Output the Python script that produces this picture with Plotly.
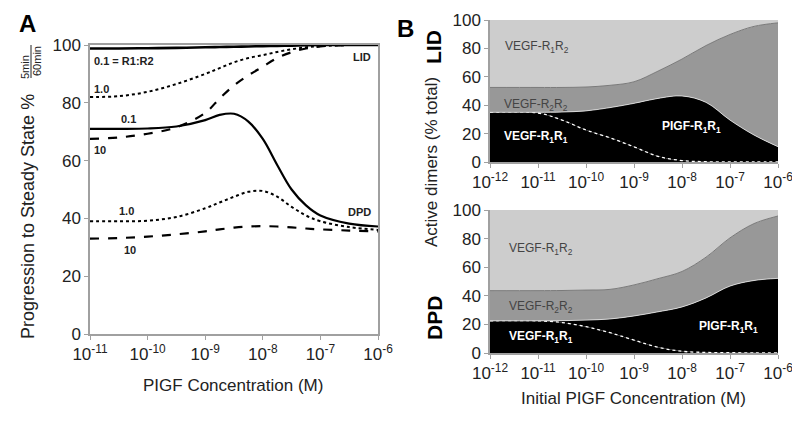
import plotly.graph_objects as go

# ---- panel A data: progression to steady state (%), x = PlGF concentration (M)
conc_a = [1e-11, 10**-10.5, 1e-10, 10**-9.5, 1e-9, 10**-8.75, 10**-8.5, 10**-8.25,
          1e-8, 10**-7.75, 10**-7.5, 10**-7.25, 1e-7, 10**-6.5, 1e-6]

lid_01 = [98.8, 98.8, 98.9, 99.0, 99.2, 99.3, 99.4, 99.5, 99.6, 99.7, 99.8, 99.9, 100, 100, 100]
lid_10 = [82, 82.3, 83.8, 86.5, 90, 92, 94, 95.5, 96.5, 97.6, 98.5, 99.2, 99.6, 100, 100]
lid_100 = [67.5, 68, 69.3, 71.5, 76.5, 81.5, 86, 89.5, 92.5, 95.5, 97.5, 98.8, 99.5, 100, 100]
dpd_01 = [71, 71, 71.1, 71.8, 74, 75.8, 76.2, 73.5, 67.5, 58.5, 50, 44.5, 41, 38.2, 37.2]
dpd_10 = [39, 39, 39.2, 40.5, 43.5, 45.5, 47.5, 49.2, 49.5, 47.5, 44, 41, 39, 37, 36]
dpd_100 = [33, 33.2, 33.7, 34.5, 35.5, 36.2, 36.8, 37.2, 37.3, 37.2, 36.9, 36.5, 36.2, 35.8, 35.5]

# ---- panel B data: active dimers (% of total)
conc_b = [1e-12, 1e-11, 10**-10.5, 1e-10, 10**-9.5, 1e-9, 10**-8.5, 1e-8,
          10**-7.5, 1e-7, 10**-6.5, 1e-6]

lid_vegf_r1r1 = [35, 34.5, 29.5, 22.5, 17, 10.7, 4, 1, 0.2, 0, 0, 0]
lid_plgf_r1r1 = [0, 0.5, 5.7, 13.5, 21.3, 30.6, 40.8, 45.5, 41.8, 29.5, 19, 10.8]
lid_vegf_r2r2 = [17.5, 17.5, 17.3, 16.8, 15.7, 15.2, 19.2, 26, 40, 60.3, 76.5, 87.2]
lid_vegf_r1r2 = [47.5, 47.5, 47.5, 47.2, 46, 43.5, 36, 27.5, 18, 10.2, 4.5, 2]

dpd_vegf_r1r1 = [22.5, 22.5, 21.3, 18.4, 14.2, 9, 4, 1.2, 0.4, 0.2, 0.1, 0]
dpd_plgf_r1r1 = [0, 0, 1.3, 4.6, 9.6, 16.9, 24.8, 31, 38.1, 46.6, 50.6, 52.2]
dpd_vegf_r2r2 = [21.1, 21.1, 21.1, 21, 20.7, 21.7, 23.2, 24.8, 28.5, 33.7, 39.8, 43.6]
dpd_vegf_r1r2 = [56.4, 56.4, 56.3, 56, 55.5, 52.4, 48, 43, 33, 19.5, 9.5, 4.2]

ticks_a = [1e-11, 1e-10, 1e-9, 1e-8, 1e-7, 1e-6]
ticktext_a = ['10<sup>-11</sup>', '10<sup>-10</sup>', '10<sup>-9</sup>',
              '10<sup>-8</sup>', '10<sup>-7</sup>', '10<sup>-6</sup>']
ticks_b = [1e-12] + ticks_a
ticktext_b = ['10<sup>-12</sup>'] + ticktext_a

FONT = 'Arial, Liberation Sans, sans-serif'
AXIS_GRAY = '#a0a0a0'
LIGHT = '#cdcdcd'
MEDIUM = '#989898'

fig = go.Figure()

# panel A lines
styles = [
    (lid_01, 'solid', 2.6), (lid_10, 'dot', 2), (lid_100, 'dash', 2.2),
    (dpd_01, 'solid', 2.2), (dpd_10, 'dot', 2), (dpd_100, 'dash', 2.2),
]
for ys, dash, w in styles:
    fig.add_trace(go.Scatter(x=conc_a, y=ys, mode='lines', xaxis='x', yaxis='y',
                             line=dict(color='black', dash=dash, width=w, shape='spline'),
                             showlegend=False, hoverinfo='skip'))

# panel B stacked areas
def add_stack(xa, ya, group, r1r1, plgf, r2r2, r1r2):
    fig.add_trace(go.Scatter(x=conc_b, y=r1r1, stackgroup=group, xaxis=xa, yaxis=ya,
                             fillcolor='black', mode='lines',
                             line=dict(color='white', dash='dot', width=1.3, shape='spline'),
                             showlegend=False, hoverinfo='skip'))
    fig.add_trace(go.Scatter(x=conc_b, y=plgf, stackgroup=group, xaxis=xa, yaxis=ya,
                             fillcolor='black', mode='lines',
                             line=dict(color='#e8e8e8', width=0.8, shape='spline'),
                             showlegend=False, hoverinfo='skip'))
    fig.add_trace(go.Scatter(x=conc_b, y=r2r2, stackgroup=group, xaxis=xa, yaxis=ya,
                             fillcolor=MEDIUM, mode='lines',
                             line=dict(color='#7a7a7a', width=1, shape='spline'),
                             showlegend=False, hoverinfo='skip'))
    fig.add_trace(go.Scatter(x=conc_b, y=r1r2, stackgroup=group, xaxis=xa, yaxis=ya,
                             fillcolor=LIGHT, mode='lines',
                             line=dict(color=LIGHT, width=0, shape='spline'),
                             showlegend=False, hoverinfo='skip'))

add_stack('x2', 'y2', 'lid', lid_vegf_r1r1, lid_plgf_r1r1, lid_vegf_r2r2, lid_vegf_r1r2)
add_stack('x3', 'y3', 'dpd', dpd_vegf_r1r1, dpd_plgf_r1r1, dpd_vegf_r2r2, dpd_vegf_r1r2)

# the page body has an 8px margin, so the figure is a bit smaller than the window
OFF = 8
W, H = 800 - OFF, 425 - OFF


def px(x):
    return (x - OFF) / W


def py(y):
    return 1 - (y - OFF) / H


common_x = dict(type='log', showgrid=False, zeroline=False, showline=True, automargin=False,
                linecolor=AXIS_GRAY, linewidth=1.5, ticks='outside', ticklen=4,
                tickcolor=AXIS_GRAY, tickfont=dict(size=17, color='#222'))
common_y = dict(range=[0, 100], dtick=20, showgrid=False, zeroline=False, showline=True,
                automargin=False,
                linecolor=AXIS_GRAY, linewidth=1.5, ticks='outside', ticklen=4,
                tickcolor=AXIS_GRAY, tickfont=dict(size=17, color='#222'))

fig.update_layout(
    width=W, height=H, margin=dict(l=0, r=0, t=0, b=0, pad=0), autosize=False,
    paper_bgcolor='white', plot_bgcolor='white',
    font=dict(family=FONT, color='#222'),
    xaxis=dict(common_x, domain=[px(90), px(378)], range=[-11, -6], anchor='y',
               tickvals=ticks_a, ticktext=ticktext_a, mirror=True),
    yaxis=dict(common_y, domain=[py(334), py(45)], anchor='x', mirror=True),
    xaxis2=dict(common_x, domain=[px(490), px(778)], range=[-12, -6], anchor='y2',
                tickvals=ticks_b, ticktext=ticktext_b),
    yaxis2=dict(common_y, domain=[py(162), py(20)], anchor='x2'),
    xaxis3=dict(common_x, domain=[px(490), px(778)], range=[-12, -6], anchor='y3',
                tickvals=ticks_b, ticktext=ticktext_b),
    yaxis3=dict(common_y, domain=[py(353), py(210)], anchor='x3'),
)

ann = []


def paper_text(text, x, y, size, bold=False, angle=0, color='#222', xanchor='center'):
    ann.append(dict(text=f'<b>{text}</b>' if bold else text, x=px(x), y=py(y),
                    xref='paper', yref='paper', showarrow=False, textangle=angle,
                    xanchor=xanchor, yanchor='middle',
                    font=dict(size=size, color=color, family=FONT)))


def data_text(text, x, y, xr, yr, size, color='#222', xanchor='left', bold=True):
    ann.append(dict(text=f'<b>{text}</b>' if bold else text, x=x, y=y, xref=xr, yref=yr,
                    showarrow=False, xanchor=xanchor, yanchor='middle',
                    font=dict(size=size, color=color, family=FONT)))


paper_text('A', 27, 24, 24, bold=True, color='black')
paper_text('B', 405, 28, 24, bold=True, color='black')
paper_text('Progression to Steady State %', 28, 217, 18, angle=-90)
paper_text('5min', 25, 67, 11, angle=-90)
paper_text('60min', 37, 61, 11, angle=-90)
paper_text('PIGF Concentration (M)', 233, 385, 17)
paper_text('Initial PIGF Concentration (M)', 633, 398, 17)
paper_text('Active dimers (% total)', 432, 162, 17, angle=-90)
paper_text('LID', 434, 47, 21, bold=True, angle=-90, color='black')
paper_text('DPD', 434, 318, 21, bold=True, angle=-90, color='black')

# panel A curve labels (log10 x)
data_text('0.1 = R1:R2', -10.96, 94.5, 'x', 'y', 11)
data_text('LID', -6.08, 95.8, 'x', 'y', 11, xanchor='right')
data_text('1.0', -10.96, 84.8, 'x', 'y', 11)
data_text('0.1', -10.34, 74.3, 'x', 'y', 11, xanchor='center')
data_text('10', -10.96, 63.7, 'x', 'y', 11)
data_text('1.0', -10.36, 42.6, 'x', 'y', 11, xanchor='center')
data_text('DPD', -6.08, 42.2, 'x', 'y', 11, xanchor='right')
data_text('10', -10.31, 29.2, 'x', 'y', 11, xanchor='center')

# panel B region labels
for xr, yr, vals in [
    ('x2', 'y2', [(-11.73, 81), (-11.75, 40), (-11.75, 17.6), (-8.46, 24.6)]),
    ('x3', 'y3', [(-11.65, 72.7), (-11.65, 32), (-11.65, 11), (-7.69, 18)]),
]:
    data_text('VEGF-R<sub>1</sub>R<sub>2</sub>', vals[0][0], vals[0][1], xr, yr, 12, color='#444', bold=False)
    data_text('VEGF-R<sub>2</sub>R<sub>2</sub>', vals[1][0], vals[1][1], xr, yr, 12, color='#444', bold=False)
    data_text('VEGF-R<sub>1</sub>R<sub>1</sub>', vals[2][0], vals[2][1], xr, yr, 12, color='white')
    data_text('PIGF-R<sub>1</sub>R<sub>1</sub>', vals[3][0], vals[3][1], xr, yr, 12, color='white')

fig.update_layout(annotations=ann)

# fraction bar of the y-axis title
fig.add_shape(type='line', xref='paper', yref='paper', x0=px(31), x1=px(31),
              y0=py(45), y1=py(78), line=dict(color='#222', width=1))

fig.write_html("out.html")
